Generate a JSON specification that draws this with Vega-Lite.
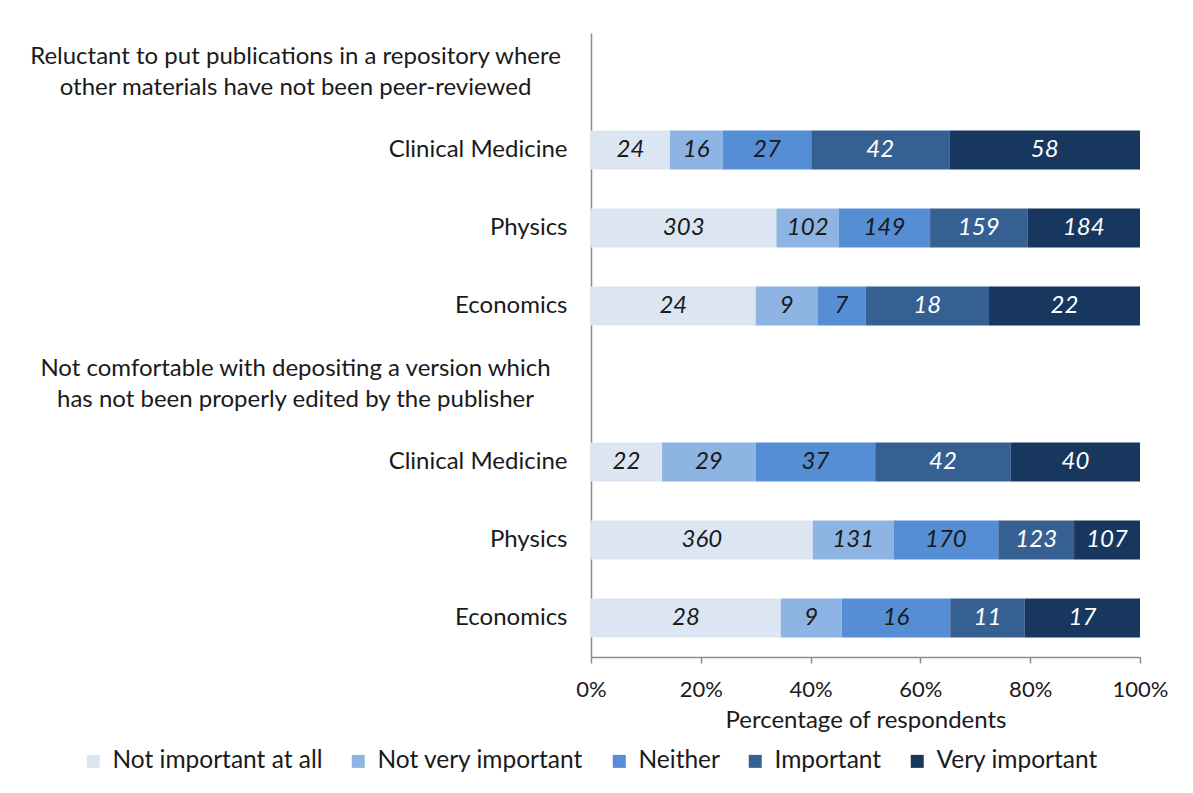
{
  "$schema": "https://vega.github.io/schema/vega-lite/v6.json",
  "width": 549,
  "height": 624,
  "autosize": {"type": "none"},
  "padding": {"left": 591, "top": 33, "right": 53, "bottom": 136},
  "background": "white",
  "config": {"view": {"stroke": null}, "font": "Lato"},
  "data": {
    "values": [
      {"row": "CM1", "level": "Not important at all", "count": 24},
      {"row": "CM1", "level": "Not very important", "count": 16},
      {"row": "CM1", "level": "Neither", "count": 27},
      {"row": "CM1", "level": "Important", "count": 42},
      {"row": "CM1", "level": "Very important", "count": 58},
      {"row": "P1", "level": "Not important at all", "count": 303},
      {"row": "P1", "level": "Not very important", "count": 102},
      {"row": "P1", "level": "Neither", "count": 149},
      {"row": "P1", "level": "Important", "count": 159},
      {"row": "P1", "level": "Very important", "count": 184},
      {"row": "E1", "level": "Not important at all", "count": 24},
      {"row": "E1", "level": "Not very important", "count": 9},
      {"row": "E1", "level": "Neither", "count": 7},
      {"row": "E1", "level": "Important", "count": 18},
      {"row": "E1", "level": "Very important", "count": 22},
      {"row": "CM2", "level": "Not important at all", "count": 22},
      {"row": "CM2", "level": "Not very important", "count": 29},
      {"row": "CM2", "level": "Neither", "count": 37},
      {"row": "CM2", "level": "Important", "count": 42},
      {"row": "CM2", "level": "Very important", "count": 40},
      {"row": "P2", "level": "Not important at all", "count": 360},
      {"row": "P2", "level": "Not very important", "count": 131},
      {"row": "P2", "level": "Neither", "count": 170},
      {"row": "P2", "level": "Important", "count": 123},
      {"row": "P2", "level": "Very important", "count": 107},
      {"row": "E2", "level": "Not important at all", "count": 28},
      {"row": "E2", "level": "Not very important", "count": 9},
      {"row": "E2", "level": "Neither", "count": 16},
      {"row": "E2", "level": "Important", "count": 11},
      {"row": "E2", "level": "Very important", "count": 17}
    ]
  },
  "transform": [
    {"calculate": "indexof(['Not important at all','Not very important','Neither','Important','Very important'], datum.level)", "as": "k"},
    {"stack": "count", "groupby": ["row"], "sort": [{"field": "k", "order": "ascending"}], "offset": "normalize", "as": ["x0", "x1"]},
    {"calculate": "(datum.x0 + datum.x1) / 2", "as": "xm"}
  ],
  "encoding": {
    "y": {
      "field": "row",
      "type": "nominal",
      "scale": {"domain": ["H1", "CM1", "P1", "E1", "H2", "CM2", "P2", "E2"], "paddingInner": 0.5, "paddingOuter": 0.25},
      "axis": {
        "title": null,
        "ticks": false,
        "domainColor": "#8c8c8c",
        "domainWidth": 1.5,
        "labelFont": "Lato",
        "labelFontSize": 24,
        "labelColor": "#1a1a1a",
        "labelLimit": 800,
        "labelLineHeight": 31,
        "labelAlign": {"condition": {"test": "datum.value == 'H1' || datum.value == 'H2'", "value": "center"}, "value": "right"},
        "labelPadding": {"condition": {"test": "datum.value == 'H1' || datum.value == 'H2'", "value": 296}, "value": 24},
        "labelOffset": {"condition": {"test": "datum.value == 'H1' || datum.value == 'H2'", "value": -15.5}, "value": 0},
        "labelExpr": "datum.value == 'H1' ? ['Reluctant to put publications in a repository where', 'other materials have not been peer-reviewed'] : datum.value == 'H2' ? ['Not comfortable with depositing a version which', 'has not been properly edited by the publisher'] : indexof(['CM1','CM2'], datum.value) >= 0 ? 'Clinical Medicine' : indexof(['P1','P2'], datum.value) >= 0 ? 'Physics' : 'Economics'"
      }
    }
  },
  "layer": [
    {
      "mark": {"type": "bar"},
      "encoding": {
        "x": {
          "field": "x0",
          "type": "quantitative",
          "scale": {"domain": [0, 1], "nice": false},
          "axis": {
            "values": [0, 0.2, 0.4, 0.6, 0.8, 1],
            "format": "%",
            "grid": false,
            "labelFlush": false,
            "labelFont": "Lato",
            "labelFontSize": 22,
            "labelColor": "#1a1a1a",
            "labelPadding": 16,
            "domainColor": "#8c8c8c",
            "domainWidth": 1.5,
            "tickColor": "#8c8c8c",
            "tickWidth": 1.5,
            "tickSize": 6,
            "title": "Percentage of respondents",
            "titleFont": "Lato",
            "titleFontSize": 24,
            "titleFontWeight": "normal",
            "titleColor": "#1a1a1a",
            "titlePadding": 8
          }
        },
        "x2": {"field": "x1"},
        "color": {
          "field": "level",
          "type": "nominal",
          "scale": {
            "domain": ["Not important at all", "Not very important", "Neither", "Important", "Very important"],
            "range": ["#dce6f2", "#8eb4e3", "#558ed5", "#376092", "#17375e"]
          },
          "legend": {
            "title": null,
            "orient": "none",
            "direction": "horizontal",
            "legendX": -510,
            "legendY": 716,
            "symbolType": "square",
            "symbolSize": 169,
            "symbolStrokeWidth": 0,
            "symbolOpacity": 1,
            "labelFont": "Lato",
            "labelFontSize": 24.5,
            "labelColor": "#1a1a1a",
            "labelOffset": 7,
            "columnPadding": 23,
            "labelLimit": 400
          }
        }
      }
    },
    {
      "mark": {"type": "text", "font": "Lato", "fontSize": 24, "fontStyle": "italic", "baseline": "middle", "align": "center"},
      "encoding": {
        "x": {"field": "xm", "type": "quantitative"},
        "text": {"field": "count", "type": "quantitative"},
        "color": {"condition": {"test": "datum.k >= 3", "value": "white"}, "value": "#1a1a1a"}
      }
    }
  ]
}
